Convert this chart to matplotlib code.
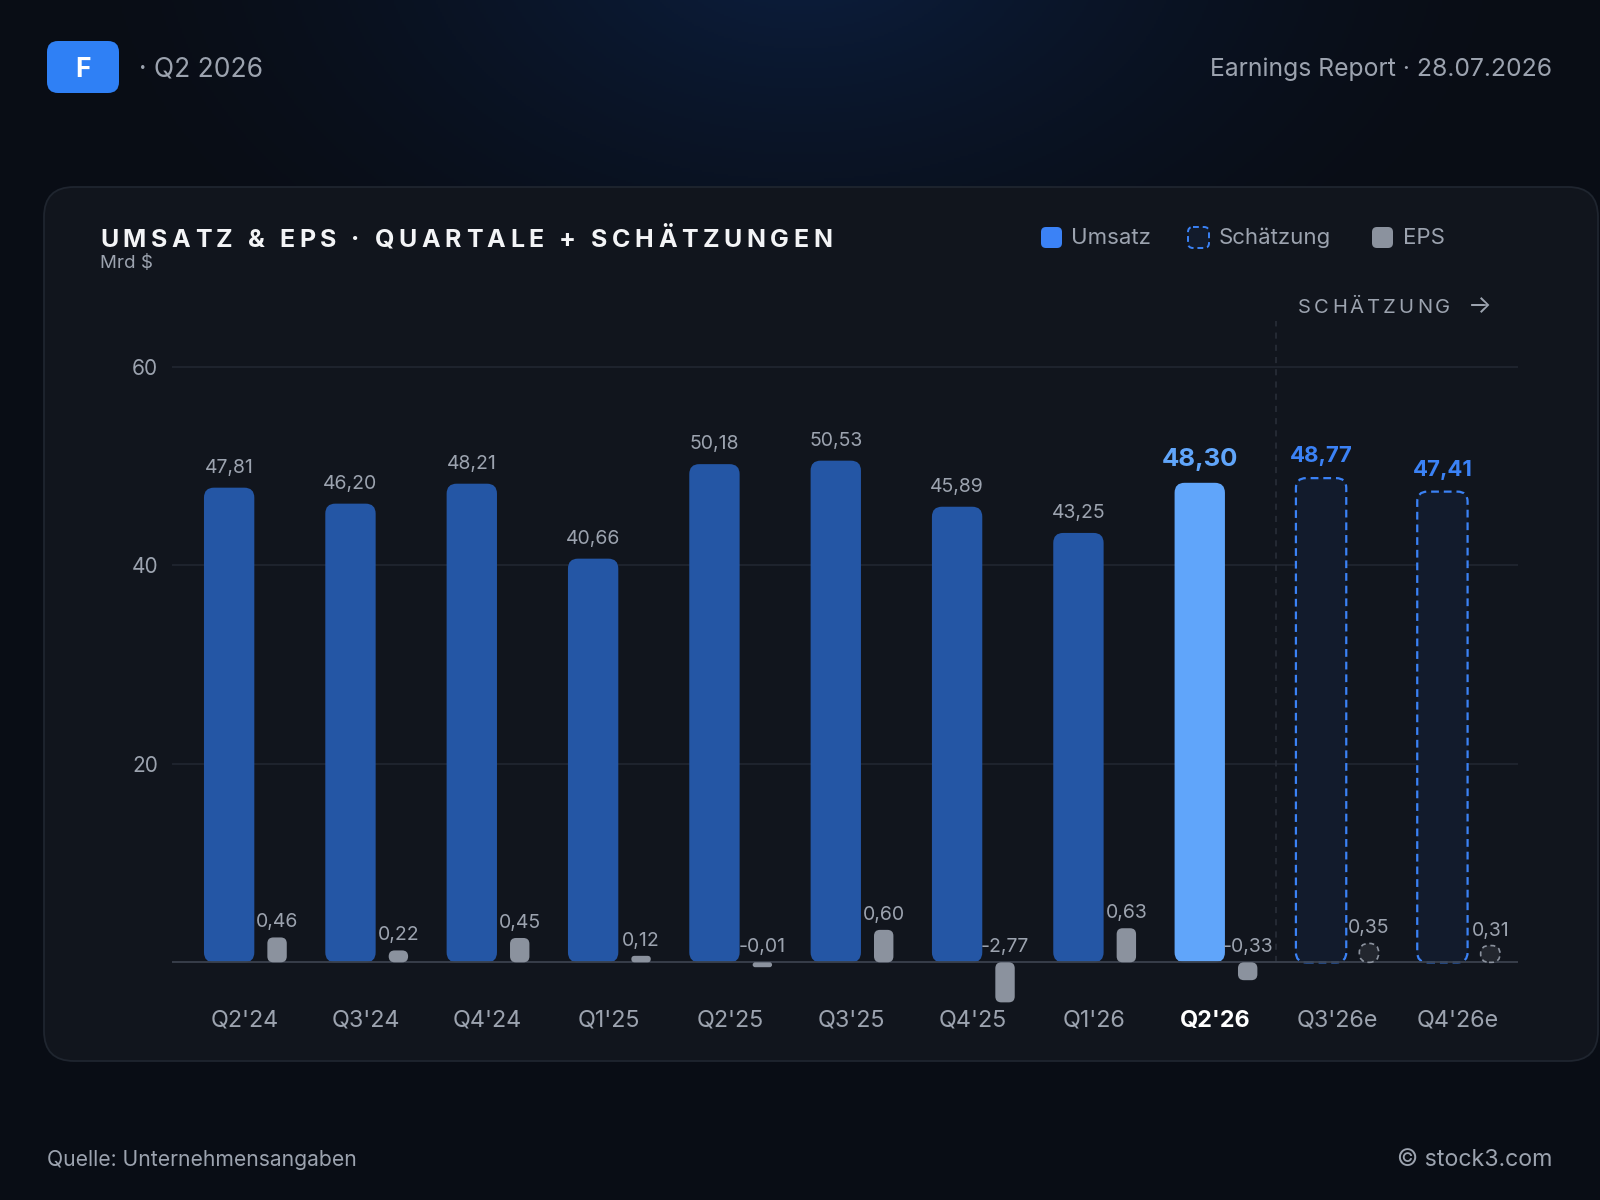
import numpy as np
import matplotlib
matplotlib.use("Agg")
import matplotlib.pyplot as plt
from matplotlib.patches import FancyBboxPatch
from matplotlib.transforms import blended_transform_factory

# ---------------- data ----------------
quarters = ["Q2'24", "Q3'24", "Q4'24", "Q1'25", "Q2'25", "Q3'25", "Q4'25",
            "Q1'26", "Q2'26", "Q3'26e", "Q4'26e"]
revenue = [47.81, 46.20, 48.21, 40.66, 50.18, 50.53, 45.89, 43.25, 48.30, 48.77, 47.41]
eps = [0.46, 0.22, 0.45, 0.12, -0.01, 0.60, -2.77, 0.63, -0.33, 0.35, 0.31]
is_estimate = [False] * 9 + [True] * 2
current_idx = 8
yticks = [20, 40, 60]

# ---------------- style ----------------
FONT = ["Inter", "DejaVu Sans"]
plt.rcParams["font.family"] = FONT
BG = np.array([9, 13, 21]) / 255
GLOW = np.array([12, 31, 64]) / 255
PANEL = "#11151d"
PANEL_EDGE = "#1f252f"
GRAY = "#9ca3af"
BLUE = "#3b82f6"
BAR = "#2456a5"
HILITE = "#60a5fa"
EPS_C = "#8b929e"
EST_FILL = "#121b2c"
W, H = 1600, 1200

fig = plt.figure(figsize=(16, 12), dpi=100)

# background axes in pixel coords
bg = fig.add_axes([0, 0, 1, 1])
bg.set_xlim(0, W)
bg.set_ylim(H, 0)
bg.axis("off")
yy, xx = np.mgrid[0:H:2, 0:W:2]
d = np.sqrt(((xx - 800) / 760) ** 2 + ((yy + 60) / 480) ** 2)
t = np.clip(1 - d, 0, 1) ** 1.6
img = BG + (GLOW - BG) * t[..., None]
bg.imshow(img, extent=(0, W, H, 0), zorder=-10, aspect="auto")

# panel
bg.add_patch(FancyBboxPatch((44, 187), 1554, 874,
                            boxstyle="round,pad=0,rounding_size=30",
                            fc=PANEL, ec=PANEL_EDGE, lw=1.3, zorder=-5))

# header
bg.add_patch(FancyBboxPatch((47, 41), 72, 52, boxstyle="round,pad=0,rounding_size=11",
                            fc="#2f80f5", ec="none"))
bg.text(83, 67, "F", color="white", fontsize=19, fontweight="bold",
        ha="center", va="center_baseline")
bg.text(139, 69, "· Q2 2026", color=GRAY, fontsize=19, ha="left", va="center")
bg.text(1552, 69, "Earnings Report · 28.07.2026", color=GRAY, fontsize=17.8,
        ha="right", va="center")

# footer
bg.text(47, 1160, "Quelle: Unternehmensangaben", color=GRAY, fontsize=15.2,
        ha="left", va="center")
bg.text(1552, 1160, "© stock3.com", color=GRAY, fontsize=16.7, ha="right", va="center")

renderer = fig.canvas.get_renderer()


def char_width(ch, **kw):
    a = bg.text(0, 0, "|" + ch + "|", **kw)
    b = bg.text(0, 0, "||", **kw)
    w = a.get_window_extent(renderer).width - b.get_window_extent(renderer).width
    a.remove()
    b.remove()
    return w


def spaced(x0, x1, y, s, **kw):
    ws = [char_width(c, **kw) for c in s]
    sp = (x1 - x0 - sum(ws)) / (len(s) - 1)
    x = x0
    for c, w in zip(s, ws):
        bg.text(x, y, c, ha="left", va="baseline", **kw)
        x += w + sp


spaced(100, 832, 247, "UMSATZ & EPS · QUARTALE + SCHÄTZUNGEN",
       color="#f3f4f6", fontsize=18, fontweight="bold")
bg.text(100, 264, "Mrd $", color=GRAY, fontsize=13.5, ha="left", va="center")
spaced(1298, 1450, 313, "SCHÄTZUNG", color=GRAY, fontsize=14.5)
bg.text(1492, 313, "→", color=GRAY, fontsize=18, ha="right", va="baseline")

# legend
def legend_sq(x, fc, ec="none", ls="solid"):
    bg.add_patch(FancyBboxPatch((x, 227), 21, 21, boxstyle="round,pad=0,rounding_size=5",
                                fc=fc, ec=ec, lw=1.4, ls=ls))

legend_sq(1041, BLUE)
bg.text(1071, 238, "Umsatz", color=GRAY, fontsize=16, ha="left", va="center")
legend_sq(1188, EST_FILL, ec=BLUE, ls=(0, (3, 2)))
bg.text(1219, 238, "Schätzung", color=GRAY, fontsize=16, ha="left", va="center")
legend_sq(1372, EPS_C)
bg.text(1403, 238, "EPS", color=GRAY, fontsize=16, ha="left", va="center")

# ---------------- main axes ----------------
AX_L, AX_R, AX_T, AX_B = 172, 1518, 317, 1008
ax = fig.add_axes([AX_L / W, 1 - AX_B / H, (AX_R - AX_L) / W, (AX_B - AX_T) / H])
ax.set_facecolor("none")
XLIM = (-0.601, 10.493)
YLIM = (-4.6, 65.0)
ax.set_xlim(*XLIM)
ax.set_ylim(*YLIM)
for s in ax.spines.values():
    s.set_visible(False)
ax.set_xticks([])
ax.set_yticks(yticks)
ax.set_yticklabels([str(v) for v in yticks])
ax.tick_params(axis="y", length=0, pad=10, labelsize=15, labelcolor=GRAY)
for v in yticks:
    ax.axhline(v, color="#222833", lw=1.1, zorder=0)
ax.axhline(0, color="#3a414d", lw=1.3, zorder=3)

EPS_SCALE = 5.45  # revenue units per EPS unit
ax2 = ax.twinx()
ax2.set_ylim(YLIM[0] / EPS_SCALE, YLIM[1] / EPS_SCALE)
ax2.axis("off")

bb = ax.get_window_extent(renderer)
px_x = bb.width / (XLIM[1] - XLIM[0])
px_y1 = bb.height / (YLIM[1] - YLIM[0])
px_y2 = px_y1 * EPS_SCALE


def rbar(a, pxy, xc, w, val, r_px, **kw):
    y0 = min(0, val)
    h = abs(val)
    r = min(r_px, w * px_x / 2, h * pxy / 2)
    p = FancyBboxPatch((xc - w / 2, y0), w, h,
                       boxstyle=f"round,pad=0,rounding_size={r / px_x}",
                       mutation_aspect=px_x / pxy, **kw)
    a.add_patch(p)


REV_OFF, REV_W = -0.13, 0.415
EPS_OFF, EPS_W = 0.265, 0.16
EPS_MIN, EPS_CLIP = 0.09, -0.74

for i, (q, rv, e) in enumerate(zip(quarters, revenue, eps)):
    xr = i + REV_OFF
    xe = i + EPS_OFF
    lab = f"{rv:.2f}".replace(".", ",")
    if is_estimate[i]:
        rbar(ax, px_y1, xr, REV_W, rv, 10, fc=EST_FILL, ec=BLUE, lw=1.6,
             ls=(0, (3.5, 2.2)), zorder=2)
        ax.annotate(lab, (xr, rv), xytext=(0, 16), textcoords="offset pixels",
                    ha="center", va="baseline", color=BLUE, fontsize=16,
                    fontweight="bold")
    elif i == current_idx:
        rbar(ax, px_y1, xr, REV_W, rv, 10, fc=HILITE, ec="none", zorder=2)
        ax.annotate(lab, (xr, rv), xytext=(0, 17), textcoords="offset pixels",
                    ha="center", va="baseline", color=HILITE, fontsize=18.5,
                    fontweight="bold")
    else:
        rbar(ax, px_y1, xr, REV_W, rv, 10, fc=BAR, ec="none", zorder=2)
        ax.annotate(lab, (xr, rv), xytext=(0, 15), textcoords="offset pixels",
                    ha="center", va="baseline", color=GRAY, fontsize=14)

    ev = max(e, EPS_CLIP)
    if abs(ev) < EPS_MIN:
        ev = EPS_MIN if ev >= 0 else -EPS_MIN
    elab = f"{e:.2f}".replace(".", ",")
    if is_estimate[i]:
        rbar(ax2, px_y2, xe, EPS_W, ev, 10, fc="#22262e", ec=EPS_C, lw=1.2,
             ls=(0, (3, 2.2)), zorder=2)
    else:
        rbar(ax2, px_y2, xe, EPS_W, ev, 6, fc=EPS_C, ec="none", zorder=2)
    ax2.annotate(elab, (xe, max(ev, 0)), xytext=(0, 10), textcoords="offset pixels",
                 ha="center", va="baseline", color=GRAY, fontsize=14)

# separator between actuals and estimates
ax.plot([8.5, 8.5], [0, 64.6], color="#2a303b", lw=1.1, ls=(0, (4, 4)), zorder=1)

# x labels
blend = blended_transform_factory(ax.transData, bg.transData)
for i, q in enumerate(quarters):
    cur = i == current_idx
    ax.text(i, 1021, q, transform=blend, ha="center", va="center",
            fontsize=16.8, color="white" if cur else GRAY,
            fontweight="bold" if cur else "normal")

fig.savefig("out.png", dpi=100, facecolor=BG)
